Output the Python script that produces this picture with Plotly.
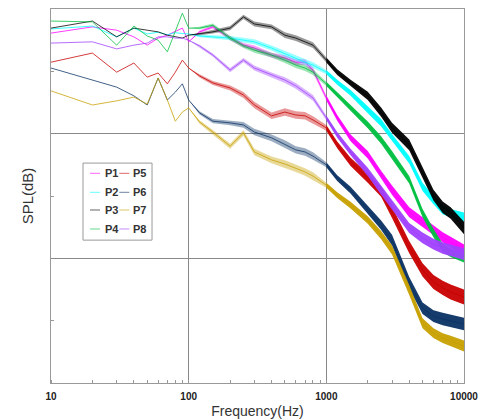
import plotly.graph_objects as go

# Frequency grid (Hz)
freq = [10, 20, 30, 40, 50, 60, 70, 80, 90, 100,
        120, 150, 200, 250, 300, 400, 500, 600, 700, 800,
        1000, 1200, 1500, 2000, 2500, 3000, 4000, 5000, 6000, 7000, 8000, 10000]

# Mean SPL levels (dB)
P1 = [104.2, 105.7, 104.9, 103.3, 101.3, 103.0, 103.7, 104.7, 105.4, 102.1,
      104.5, 105.7, 103.0, 101.3, 100.6, 98.9, 98.2, 97.2, 97.2, 95.3,
      88.6, 83.8, 79.0, 74.9, 70.1, 66.4, 61.1, 58.7, 56.8, 55.1, 53.9, 52.0]
P2 = [105.2, 105.9, 103.3, 105.4, 104.0, 104.4, 103.8, 104.3, 104.1, 104.0,
      103.5, 103.3, 103.0, 102.5, 102.1, 100.6, 99.2, 98.2, 97.2, 96.5,
      94.8, 92.4, 89.8, 85.7, 82.6, 79.0, 73.7, 67.2, 64.0, 61.6, 60.9, 59.9]
P3 = [105.4, 107.1, 103.3, 105.4, 104.9, 104.5, 103.7, 103.3, 103.0, 103.7,
      104.0, 104.5, 105.4, 108.1, 106.4, 105.7, 103.7, 103.0, 102.1, 101.3,
      97.7, 94.8, 92.2, 89.1, 85.2, 81.4, 77.3, 70.8, 65.2, 62.3, 60.9, 57.3]
P4 = [107.1, 106.9, 101.3, 105.9, 103.5, 102.5, 99.7, 104.9, 109.0, 105.4,
      105.4, 106.1, 103.0, 101.1, 100.1, 98.9, 97.7, 96.5, 95.8, 94.8,
      92.0, 89.3, 86.2, 82.1, 78.5, 74.9, 68.9, 60.9, 56.1, 52.5, 51.3, 50.1]
P5 = [97.2, 99.4, 94.8, 97.0, 93.6, 94.6, 92.0, 94.8, 97.7, 95.8,
      93.9, 92.2, 91.0, 89.3, 86.9, 84.3, 85.2, 84.5, 84.3, 83.3,
      81.4, 77.3, 73.2, 69.3, 66.0, 61.1, 52.7, 47.2, 44.3, 42.9, 41.9, 40.7]
P6 = [95.8, 92.9, 91.2, 89.1, 86.9, 93.4, 88.1, 90.0, 92.0, 88.1,
      85.0, 83.0, 82.6, 82.1, 80.4, 79.0, 77.5, 76.1, 75.6, 74.6,
      72.5, 69.3, 66.4, 61.6, 58.0, 54.4, 44.1, 38.0, 36.1, 35.4, 34.9, 34.2]
P7 = [90.3, 86.9, 87.9, 88.8, 87.1, 93.4, 88.1, 83.0, 85.2, 86.2,
      82.8, 80.4, 77.0, 80.2, 75.6, 73.7, 72.7, 71.7, 70.8, 69.8,
      67.6, 65.2, 62.8, 59.2, 55.6, 52.0, 42.4, 34.4, 32.0, 30.8, 30.1, 28.9]
P8 = [101.8, 102.1, 100.4, 101.3, 101.8, 103.3, 103.3, 103.0, 103.0, 102.5,
      101.1, 98.9, 95.3, 97.7, 95.8, 94.1, 92.9, 91.5, 90.0, 88.6,
      83.8, 79.7, 75.6, 70.8, 66.4, 62.8, 57.3, 54.9, 53.4, 52.5, 52.0, 51.0]

# Half-width of the noise band (dB)
S1 = [0, 0, 0, 0, 0, 0, 0, 0, 0, 0,
      0.3, 0.4, 0.5, 0.5, 0.6, 0.6, 0.7, 0.7, 0.7, 0.7,
      0.6, 0.7, 0.8, 0.9, 1.0, 1.1, 1.2, 1.2, 1.2, 1.2, 1.3, 1.3]
S2 = [0, 0, 0, 0, 0, 0, 0, 0, 0, 0,
      0.3, 0.4, 0.5, 0.5, 0.6, 0.6, 0.7, 0.7, 0.7, 0.7,
      0.5, 0.6, 0.7, 0.8, 0.9, 0.9, 0.9, 1.0, 1.0, 1.0, 1.0, 1.1]
S3 = [0, 0, 0, 0, 0, 0, 0, 0, 0, 0,
      0.3, 0.4, 0.5, 0.5, 0.6, 0.6, 0.7, 0.7, 0.7, 0.7,
      0.6, 0.7, 0.8, 1.0, 1.1, 1.2, 1.3, 1.3, 1.3, 1.4, 1.4, 1.5]
S4 = [0, 0, 0, 0, 0, 0, 0, 0, 0, 0,
      0.3, 0.4, 0.5, 0.5, 0.6, 0.6, 0.7, 0.7, 0.7, 0.7,
      0.5, 0.6, 0.7, 0.8, 0.9, 0.9, 0.9, 1.0, 1.0, 1.0, 1.0, 1.1]
S5 = [0, 0, 0, 0, 0, 0, 0, 0, 0, 0,
      0.4, 0.5, 0.6, 0.7, 0.8, 0.8, 0.9, 0.9, 0.9, 0.9,
      0.7, 0.8, 1.0, 1.1, 1.2, 1.4, 1.5, 1.6, 1.7, 1.7, 1.8, 1.8]
S6 = [0, 0, 0, 0, 0, 0, 0, 0, 0, 0,
      0.4, 0.5, 0.6, 0.7, 0.8, 0.8, 0.9, 0.9, 0.9, 0.9,
      0.6, 0.7, 0.8, 1.0, 1.1, 1.3, 1.4, 1.4, 1.4, 1.5, 1.5, 1.5]
S7 = [0, 0, 0, 0, 0, 0, 0, 0, 0, 0,
      0.4, 0.5, 0.6, 0.7, 0.8, 0.8, 0.9, 0.9, 0.9, 0.9,
      0.6, 0.7, 0.8, 0.9, 1.0, 1.1, 1.2, 1.2, 1.2, 1.2, 1.3, 1.3]
S8 = [0, 0, 0, 0, 0, 0, 0, 0, 0, 0,
      0.3, 0.4, 0.5, 0.5, 0.6, 0.6, 0.7, 0.7, 0.7, 0.7,
      0.6, 0.7, 0.8, 1.0, 1.1, 1.2, 1.2, 1.3, 1.3, 1.4, 1.4, 1.4]

names = ["P1", "P2", "P3", "P4", "P5", "P6", "P7", "P8"]
series = [P1, P2, P3, P4, P5, P6, P7, P8]
spreads = [S1, S2, S3, S4, S5, S6, S7, S8]
colors = ["#FF00FF", "#00FFFF", "#000000", "#00C040",
          "#C80000", "#0A3264", "#C8A000", "#A040FF"]

FONT = "Liberation Sans, Arial, sans-serif"


def rgba(hexcol, a):
    h = hexcol.lstrip("#")
    return "rgba(%d,%d,%d,%.2f)" % (int(h[0:2], 16), int(h[2:4], 16), int(h[4:6], 16), a)


def band(f, vals, spr, i0, i1):
    ff = f[i0:i1]
    hi = [v + s for v, s in zip(vals[i0:i1], spr[i0:i1])]
    lo = [v - s for v, s in zip(vals[i0:i1], spr[i0:i1])]
    return ff + ff[::-1], hi + lo[::-1]


fig = go.Figure()
for name, vals, spr, col in zip(names, series, spreads, colors):
    # mid-frequency jagged region: translucent halo
    bx, by = band(freq, vals, spr, 9, 21)
    fig.add_trace(go.Scatter(x=bx, y=by, fill="toself", fillcolor=rgba(col, 0.4),
                             line=dict(width=0), mode="lines",
                             hoverinfo="skip", showlegend=False))
    # high-frequency dense noise region: solid band
    bx, by = band(freq, vals, spr, 20, len(freq))
    fig.add_trace(go.Scatter(x=bx, y=by, fill="toself", fillcolor=rgba(col, 0.95),
                             line=dict(width=0), mode="lines",
                             hoverinfo="skip", showlegend=False))
    fig.add_trace(go.Scatter(x=freq, y=vals, mode="lines", name=name,
                             line=dict(color=col, width=0.9), opacity=0.85,
                             showlegend=False))

# Manual two-column legend
shapes = [dict(type="rect", xref="paper", yref="paper", x0=0.0775, x1=0.2446,
               y0=0.382, y1=0.588, line=dict(color="#999999", width=1),
               fillcolor="white", layer="above")]
annotations = []
row_y = [0.5607, 0.5099, 0.4626, 0.4118]
cols = [(0.0944, 0.1186, 0.1259), (0.1654, 0.1896, 0.1937)]
for i, (name, col) in enumerate(zip(names, colors)):
    c = cols[i // 4]
    yy = row_y[i % 4]
    shapes.append(dict(type="line", xref="paper", yref="paper", x0=c[0], x1=c[1],
                       y0=yy, y1=yy, line=dict(color=col, width=1), opacity=0.6,
                       layer="above"))
    annotations.append(dict(xref="paper", yref="paper", x=c[2], y=yy, text="<b>%s</b>" % name,
                            showarrow=False, xanchor="left", yanchor="middle",
                            font=dict(family=FONT, size=11, color="#333333")))

fig.update_layout(
    width=483, height=419,
    margin=dict(l=51, r=19, t=9, b=36),
    paper_bgcolor="white", plot_bgcolor="white",
    shapes=shapes, annotations=annotations,
    font=dict(family=FONT, color="#333333"),
)
fig.update_xaxes(
    type="log", range=[1, 4], automargin=False,
    tickvals=[10, 100, 1000, 10000],
    ticktext=["<b>10</b>", "<b>100</b>", "<b>1000</b>", "<b>10000</b>"],
    tickfont=dict(family=FONT, size=10, color="#222222"),
    ticks="", ticklabelstandoff=4,
    showgrid=True, gridcolor="#888888", gridwidth=1,
    showline=True, linecolor="#999999", linewidth=1, mirror=True,
    zeroline=False,
    minor=dict(ticks="inside", ticklen=3, tickcolor="#999999", dtick="D1", showgrid=False),
    title=dict(text="Frequency(Hz)", font=dict(family=FONT, size=14, color="#333333"), standoff=6),
)
fig.update_yaxes(
    range=[20, 110], tick0=20, dtick=30, automargin=False,
    showticklabels=False, ticks="",
    showgrid=True, gridcolor="#888888", gridwidth=1,
    showline=True, linecolor="#999999", linewidth=1, mirror=True,
    zeroline=False,
    minor=dict(ticks="inside", ticklen=3, tickcolor="#999999", tick0=20, dtick=15, showgrid=False),
    title=dict(text="SPL(dB)", font=dict(family=FONT, size=15, color="#333333"), standoff=12),
)

fig.write_html("out.html")
